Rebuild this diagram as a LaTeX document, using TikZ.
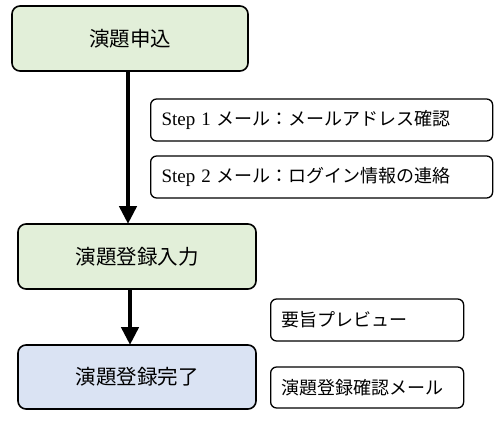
\documentclass[tikz,border=0pt]{standalone}
\usepackage{fontspec}
\setmainfont{Liberation Serif}
\newfontfamily\jp{Noto Sans CJK JP}
\usetikzlibrary{arrows.meta}
\definecolor{boxgreen}{HTML}{E2EFD9}
\definecolor{boxblue}{HTML}{DAE3F3}
\begin{document}
\begin{tikzpicture}[x=1pt,y=-1pt,
  bigbox/.style={draw=black,line width=1.6pt,rounded corners=8pt,font=\jp\fontsize{20.5}{24}\selectfont},
  notebox/.style={draw=black,line width=1.3pt,rounded corners=6pt,fill=white,font=\jp\fontsize{18}{20}\selectfont,anchor=west,align=left,inner xsep=11pt},
  flow/.style={line width=4.5pt,-{Triangle[width=17pt,length=18pt]}}]
\useasboundingbox (0,0) rectangle (500,422);
\node[bigbox,fill=boxgreen,minimum width=236pt,minimum height=65pt] (apply) at (130,38.5) {演題申込};
\node[bigbox,fill=boxgreen,minimum width=238pt,minimum height=65pt] (input) at (137,256.5) {演題登録入力};
\node[bigbox,fill=boxblue,minimum width=238pt,minimum height=64pt] (done) at (137,377) {演題登録完了};
\node[notebox,minimum width=342pt,minimum height=42pt,text width=320pt] (s1) at (150,120) {{\fontspec{Liberation Serif}\fontsize{19}{20}\selectfont Step 1} メール：メールアドレス確認};
\node[notebox,minimum width=342pt,minimum height=42pt,text width=320pt] (s2) at (150,177) {{\fontspec{Liberation Serif}\fontsize{19}{20}\selectfont Step 2} メール：ログイン情報の連絡};
\node[notebox,minimum width=193pt,minimum height=42pt,text width=171pt] (prev) at (270,320) {要旨プレビュー};
\node[notebox,minimum width=193pt,minimum height=41pt,text width=171pt] (mail) at (270,387.5) {演題登録確認メール};
\coordinate (a1) at (128,71);
\coordinate (a2) at (128,224);
\coordinate (b1) at (130,289);
\coordinate (b2) at (130,345);
\draw[flow] (a1) -- (a2);
\draw[flow] (b1) -- (b2);
\end{tikzpicture}
\end{document}
